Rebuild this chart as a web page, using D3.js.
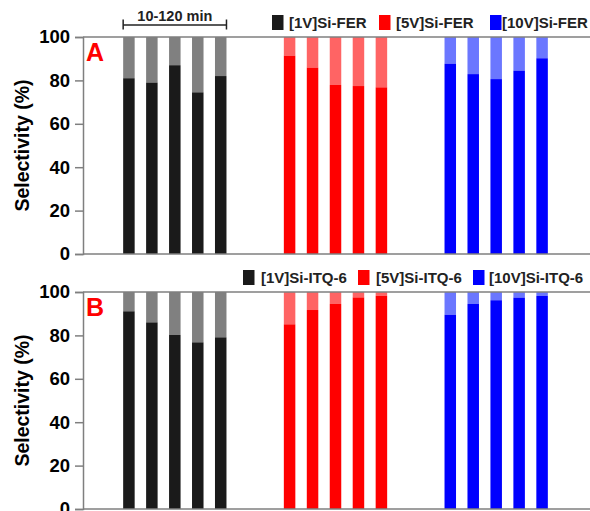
<!DOCTYPE html>
<html>
<head>
<meta charset="utf-8">
<script src="https://cdn.jsdelivr.net/npm/d3@7"></script>
<style>
  body { margin: 0; background: #fff; }
  text { font-family: "Liberation Sans", Arial, sans-serif; font-weight: bold; }
</style>
</head>
<body>
<div id="chart"></div>
<script>
var W = 590, H = 511;

// data
var namesA = ["[1V]Si-FER", "[5V]Si-FER", "[10V]Si-FER"];
var namesB = ["[1V]Si-ITQ-6", "[5V]Si-ITQ-6", "[10V]Si-ITQ-6"];
var selA = [
  [81, 79, 87, 74.5, 82],
  [91.4, 85.9, 77.9, 77.4, 76.8],
  [87.7, 82.9, 80.6, 84.5, 90.2]
];
var selB = [
  [91.1, 86, 80.2, 76.8, 79.1],
  [85.1, 91.7, 94.5, 97.5, 98.2],
  [89.5, 94.5, 96.2, 97.4, 98.2]
];
var yTicks = [0, 20, 40, 60, 80, 100];

var darkCol = ["#1a1a1a", "#ff0000", "#0000ff"];
var lightCol = ["#808080", "#ff6464", "#6b77ff"];

var axisCol = "#7f7f7f";
var barW = 11.5;
var slotsPerGroup = 7;

var svg = d3.select("#chart").append("svg")
  .attr("width", W)
  .attr("height", H);

var x = d3.scaleLinear().domain([-2, 20]).range([83, 588]);

function panel(top, bottom, letter, names, sel, rectX, textX) {
  var y = d3.scaleLinear().domain([0, 100]).range([bottom, top]);
  var g = svg.append("g");

  // bars
  sel.forEach(function(series, gi) {
    series.forEach(function(v, j) {
      var slot = gi * slotsPerGroup + j;
      g.append("rect")
        .attr("x", x(slot) - barW / 2)
        .attr("width", barW)
        .attr("y", y(100))
        .attr("height", y(v) - y(100))
        .attr("fill", lightCol[gi]);
      g.append("rect")
        .attr("x", x(slot) - barW / 2)
        .attr("width", barW)
        .attr("y", y(v))
        .attr("height", y(0) - y(v))
        .attr("fill", darkCol[gi]);
    });
  });

  // frame lines
  g.append("line").attr("x1", x(-2)).attr("x2", W).attr("y1", top).attr("y2", top)
    .attr("stroke", axisCol).attr("stroke-width", 1.5);
  g.append("line").attr("x1", x(-2)).attr("x2", W).attr("y1", bottom).attr("y2", bottom)
    .attr("stroke", axisCol).attr("stroke-width", 1.5);

  var yAxis = g.append("g")
    .attr("transform", "translate(" + x(-2) + ",0)")
    .call(d3.axisLeft(y).tickValues(yTicks).tickSize(8).tickPadding(5));
  yAxis.select(".domain").attr("stroke", axisCol).attr("stroke-width", 1.5);
  yAxis.selectAll(".tick line").attr("stroke", axisCol).attr("stroke-width", 1.5);
  yAxis.selectAll(".tick text")
    .attr("fill", "#000")
    .style("font-size", "18.5px")
    .style("font-family", "'Liberation Sans', Arial, sans-serif")
    .style("font-weight", "bold");

  g.append("text")
    .attr("transform", "translate(29," + (top + bottom) / 2 + ") rotate(-90)")
    .attr("text-anchor", "middle")
    .style("font-size", "19.5px")
    .text("Selectivity (%)");

  g.append("text")
    .attr("x", 86)
    .attr("y", top + 24)
    .attr("fill", "#ff0000")
    .style("font-size", "25px")
    .text(letter);

  // legend
  names.forEach(function(n, i) {
    g.append("rect")
      .attr("x", rectX[i])
      .attr("y", top - 22)
      .attr("width", 11.5)
      .attr("height", 15)
      .attr("fill", darkCol[i]);
    g.append("text")
      .attr("x", textX[i])
      .attr("y", top - 9)
      .style("font-size", "15px")
      .attr("fill", "#222")
      .text(n);
  });
}

panel(37, 254, "A", namesA, selA, [272, 379, 490], [289, 396, 502]);
panel(292, 509, "B", namesB, selB, [243, 358, 473], [261, 376, 489]);

// 10-120 min bracket
var bx0 = x(0) - barW / 2, bx1 = x(4) + barW / 2;
svg.append("line").attr("x1", bx0).attr("x2", bx1).attr("y1", 25).attr("y2", 25)
  .attr("stroke", "#222").attr("stroke-width", 1.5);
[bx0, bx1].forEach(function(bx) {
  svg.append("line").attr("x1", bx).attr("x2", bx).attr("y1", 19.5).attr("y2", 29.5)
    .attr("stroke", "#222").attr("stroke-width", 1.5);
});
svg.append("text")
  .attr("x", (bx0 + bx1) / 2)
  .attr("y", 21)
  .attr("text-anchor", "middle")
  .style("font-size", "14.5px")
  .attr("fill", "#222")
  .text("10-120 min");
</script>
</body>
</html>
